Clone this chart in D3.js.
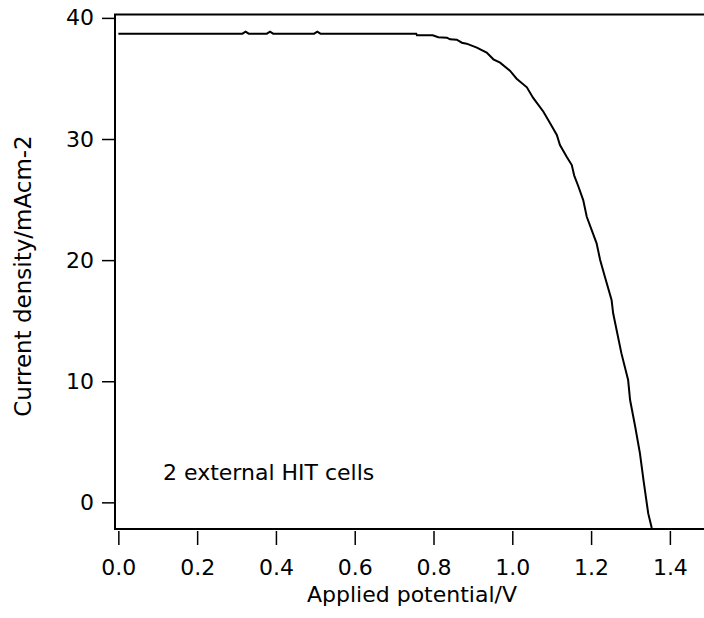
<!doctype html>
<html lang="en">
<head>
<meta charset="utf-8">
<style>
  body { margin: 0; background: #fff; }
  text { font-family: "DejaVu Sans", Verdana, sans-serif; fill: #000; }
</style>
</head>
<body>
<div id="grafico"></div>
<script src="https://d3js.org/d3.v7.min.js"></script>
<script>

// J-V curve
var potential = [0, 0.315, 0.323, 0.331, 0.377, 0.385, 0.393, 0.497, 0.505, 0.513,
  0.715, 0.756, 0.758, 0.798, 0.812, 0.834, 0.842, 0.859, 0.872, 0.884,
  0.910, 0.935, 0.952, 0.969, 0.994, 1.011, 1.037, 1.053, 1.079, 1.096,
  1.113, 1.121, 1.138, 1.151, 1.157, 1.168, 1.180, 1.189, 1.214, 1.223,
  1.235, 1.252, 1.256, 1.277, 1.294, 1.299, 1.312, 1.324, 1.333, 1.345, 1.354];
var current = [38.7, 38.7, 38.87, 38.7, 38.7, 38.87, 38.7, 38.7, 38.87, 38.7,
  38.7, 38.7, 38.56, 38.56, 38.4, 38.37, 38.23, 38.2, 37.95, 37.87,
  37.54, 37.13, 36.58, 36.3, 35.64, 34.98, 34.27, 33.39, 32.25, 31.3,
  30.33, 29.5, 28.54, 27.85, 27.0, 26.06, 24.96, 23.58, 21.39, 20.01,
  18.63, 16.71, 15.61, 12.3, 10.1, 8.45, 6.24, 4.05, 1.84, -0.91, -2.12];

var xTicks = [0, 0.2, 0.4, 0.6, 0.8, 1.0, 1.2, 1.4];
var yTicks = [0, 10, 20, 30, 40];

var xTitle = "Applied potential/V";
var yTitle = "Current density/mAcm-2";
var note = "2 external HIT cells";

var w = 704, h = 618;
var mLeft = 115, mRight = 704, mTop = 14.5, mBottom = 529;

var x = d3.scaleLinear().domain([-0.0085, 1.4866]).range([mLeft, mRight]);
var y = d3.scaleLinear().domain([-2.2, 40.28]).range([mBottom, mTop]);

var svg = d3.select("#grafico").append("svg").attr("width", w).attr("height", h);

svg.append("clipPath").attr("id", "clip").append("rect")
  .attr("x", mLeft).attr("y", mTop).attr("width", mRight - mLeft).attr("height", mBottom - mTop);

// frame: left, bottom and top lines
svg.append("line").attr("x1", mLeft).attr("x2", mLeft).attr("y1", mTop).attr("y2", mBottom)
  .attr("stroke", "#000").attr("stroke-width", 2);
svg.append("line").attr("x1", mLeft - 1).attr("x2", mRight).attr("y1", mBottom).attr("y2", mBottom)
  .attr("stroke", "#000").attr("stroke-width", 2);
svg.append("line").attr("x1", mLeft - 1).attr("x2", mRight).attr("y1", mTop).attr("y2", mTop)
  .attr("stroke", "#000").attr("stroke-width", 2);

// x axis (ticks sit a little below the frame)
var gx = svg.append("g").attr("transform", "translate(0," + (mBottom + 2) + ")")
  .call(d3.axisBottom(x).tickValues(xTicks).tickFormat(d3.format(".1f")).tickSize(14).tickPadding(14));
gx.select(".domain").remove();
gx.selectAll(".tick line").attr("stroke", "#000").attr("stroke-width", 1.5);
gx.selectAll(".tick text").style("font-size", "22px").style("font-family", "DejaVu Sans");

// y axis
var gy = svg.append("g").attr("transform", "translate(" + mLeft + ",0)")
  .call(d3.axisLeft(y).tickValues(yTicks).tickSize(13).tickPadding(8));
gy.select(".domain").remove();
gy.selectAll(".tick line").attr("stroke", "#000").attr("stroke-width", 1.5);
gy.selectAll(".tick text").style("font-size", "22px").style("font-family", "DejaVu Sans");

// curve
var puntos = potential.map(function(v, i) { return [v, current[i]]; });
svg.append("path").datum(puntos)
  .attr("clip-path", "url(#clip)")
  .attr("fill", "none").attr("stroke", "#000").attr("stroke-width", 2)
  .attr("d", d3.line().x(function(d) { return x(d[0]); }).y(function(d) { return y(d[1]); }));

// texts
svg.append("text").text(xTitle).attr("x", 412).attr("y", 602)
  .attr("text-anchor", "middle").style("font-size", "22px");
svg.append("text").text(yTitle)
  .attr("transform", "translate(31,276) rotate(-90)")
  .attr("text-anchor", "middle").style("font-size", "23px");
svg.append("text").text(note).attr("x", 163).attr("y", 480).style("font-size", "22px");

</script>
</body>
</html>
